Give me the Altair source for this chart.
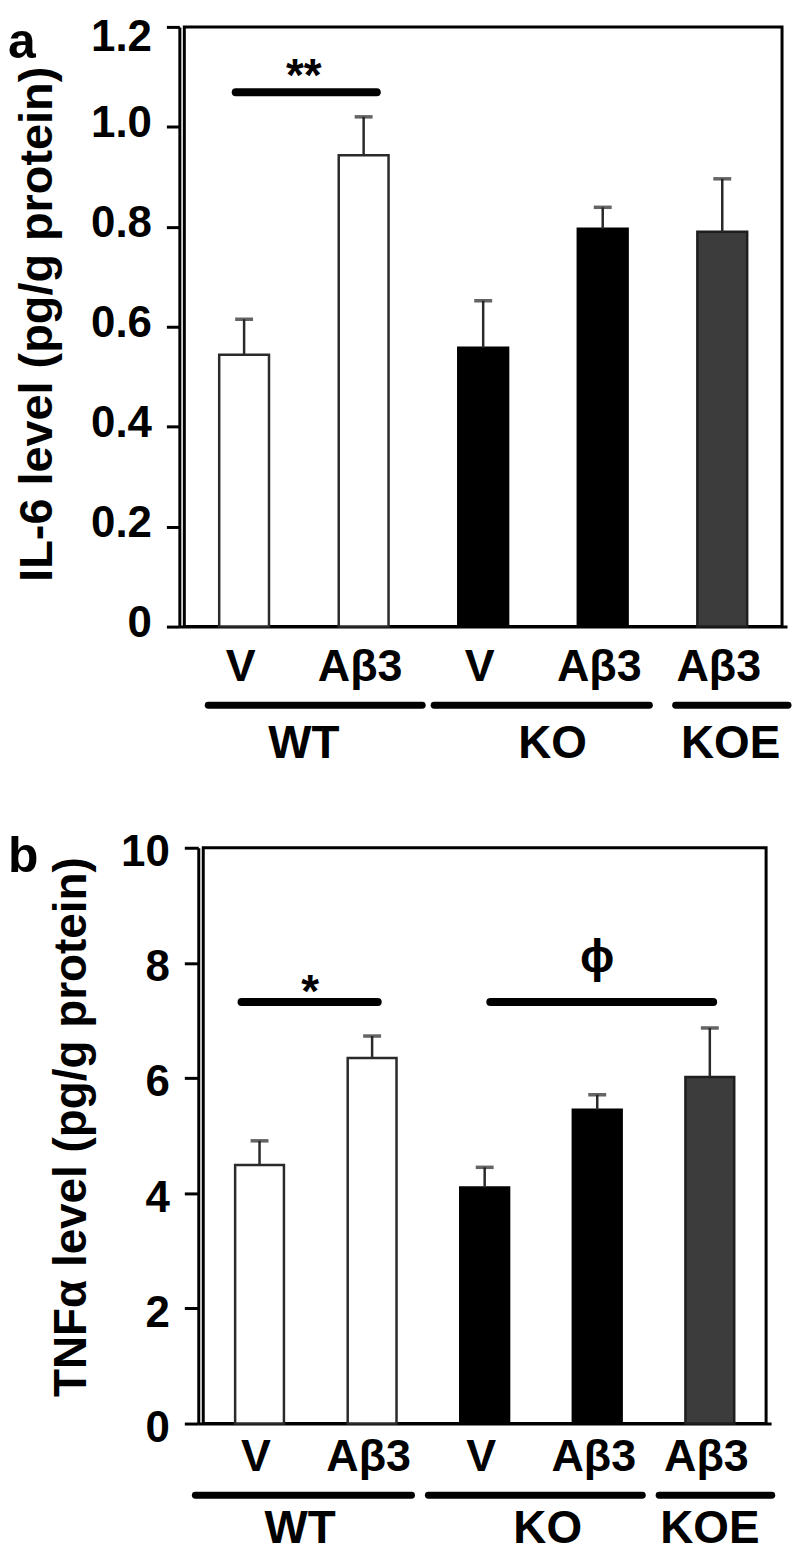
import json
import altair as alt
import pandas as pd

# ---------------- data ----------------
groups = ["WT", "WT", "KO", "KO", "KOE"]
treatments = ["V", "Aβ3", "V", "Aβ3", "Aβ3"]
group_names = ["WT", "KO", "KOE"]

il6_mean = [0.544, 0.943, 0.558, 0.796, 0.790]
il6_err = [0.071, 0.077, 0.094, 0.043, 0.106]
il6_ticks = [0, 0.2, 0.4, 0.6, 0.8, 1.0, 1.2]

tnf_mean = [4.49, 6.35, 4.10, 5.45, 6.02]
tnf_err = [0.42, 0.38, 0.35, 0.26, 0.85]
tnf_ticks = [0, 2, 4, 6, 8, 10]

# significance marks: label, bar span, level of the bracket line, level of the label
il6_sig_labels = ["**"]
il6_sig_from = [0]
il6_sig_to = [1]
il6_sig_level = [1.069]
il6_sig_text_level = [1.072]

tnf_sig_labels = ["*", "ϕ"]
tnf_sig_from = [0, 2]
tnf_sig_to = [1, 4]
tnf_sig_level = [7.32, 7.32]
tnf_sig_text_level = [7.24, 7.85]

FONT = "Liberation Sans"
FILL = {"WT": "white", "KO": "black", "KOE": "#3c3c3c"}
STROKE = {"WT": "#2a2a2a", "KO": "black", "KOE": "#1e1e1e"}

N = len(groups)


def panel(means, errs, ticks, ymax, ylabel, letter, sig, st):
    W, H, X0 = st["W"], st["H"], st["x0"]
    df = pd.DataFrame({"group": groups, "treat": treatments, "mean": means, "err": errs})
    df["idx"] = list(range(N))

    xscale = alt.Scale(domain=[0, N], range=[X0, W], nice=False, zero=False)
    yscale = alt.Scale(domain=[0, ymax], nice=False, zero=True)
    lab_arr = json.dumps(treatments, ensure_ascii=False)
    xaxis = alt.Axis(
        values=[i + 0.5 for i in range(N)],
        labelExpr=f"{lab_arr}[floor(datum.value)]",
        ticks=False, tickSize=0, grid=False, domain=True,
        domainColor="black", domainWidth=3,
        labelFont=FONT, labelFontSize=45, labelFontWeight="bold", labelColor="black",
        labelPadding=st["xlabpad"], labelBaseline="alphabetic", labelOffset=-4,
        labelFlush=False, labelOverlap=False, title=None,
    )
    yaxis = alt.Axis(
        values=ticks,
        labelExpr=st["ylabexpr"],
        labelOffset={"condition": {"test": f"datum.value >= {ymax} * 0.99", "value": st["top_lab_off"]},
                     "value": st["lab_off"]},
        offset=-X0,
        grid=False, domain=True, domainColor="black", domainWidth=3,
        ticks=True, tickSize=st["ticksize"], tickWidth=3, tickColor="black",
        labelFont=FONT, labelFontSize=44, labelFontWeight="bold", labelColor="black",
        labelPadding=st["ylabpad"], labelOverlap=False,
        title=ylabel, titleFont=FONT, titleFontSize=st["titlesize"], titleFontWeight="bold",
        titleColor="black", titleAngle=270, titleAlign="center", titleBaseline="middle",
        titleX=st["titleX"], titleY=st["titleY"],
    )

    def X(f):
        return alt.X(f, type="quantitative", scale=xscale, axis=xaxis)

    def Y(f):
        return alt.Y(f, type="quantitative", scale=yscale, axis=yaxis)

    # plot frame drawn through the scales (domain corners)
    frame = alt.Chart(pd.DataFrame({"k": [0]})).mark_rect(
        fillOpacity=0, stroke="black", strokeWidth=3
    ).encode(
        x=alt.XDatum(0, type="quantitative", scale=xscale, axis=xaxis),
        x2=alt.X2Datum(N),
        y=alt.YDatum(0, type="quantitative", scale=yscale, axis=yaxis),
        y2=alt.Y2Datum(ymax),
    )

    base = alt.Chart(df).transform_calculate(xc="datum.idx + 0.5", top="datum.mean + datum.err")
    fill = alt.Fill("group:N", scale=alt.Scale(domain=group_names, range=[FILL[g] for g in group_names]), legend=None)
    stroke = alt.Stroke("group:N", scale=alt.Scale(domain=group_names, range=[STROKE[g] for g in group_names]), legend=None)

    stems = base.mark_rule(strokeWidth=2.5, color="#2a2a2a").encode(x=X("xc"), y=Y("mean"), y2="top:Q")
    caps = base.mark_tick(orient="horizontal", size=18, thickness=3.5, color="#222222").encode(x=X("xc"), y=Y("top"))
    bars = base.mark_bar(size=st["bw"], strokeWidth=2.5, orient="vertical").encode(
        x=X("xc"), y=Y("mean"), fill=fill, stroke=stroke
    )

    # significance brackets
    sdf = pd.DataFrame({
        "label": sig["labels"],
        "a": sig["from"], "b": sig["to"],
        "level": sig["level"], "tlevel": sig["tlevel"],
    })
    sbase = alt.Chart(sdf).transform_calculate(
        x1=f"datum.a + 0.5 + {st['sig_pad_l']}[datum.a == 0 ? 0 : 1]",
        x2=f"datum.b + 0.5 + {st['sig_pad_r']}[datum.a == 0 ? 0 : 1]",
        xm=f"(datum.a + datum.b) / 2 + 0.5 + {st['sig_dx']}[datum.a == 0 ? 0 : 1]",
    )
    sig_lines = sbase.mark_rule(strokeWidth=8, strokeCap="round", color="black").encode(
        x=X("x1"), x2="x2:Q", y=Y("level")
    )
    sig_text = sbase.mark_text(font=FONT, fontSize=46, fontWeight="bold", baseline="alphabetic", color="black").encode(
        x=X("xm"), y=Y("tlevel"), text="label:N"
    )

    # group underlines and names below the axis
    gdf = pd.DataFrame({"gname": group_names})
    gdf["first"] = [groups.index(g) for g in group_names]
    gdf["last"] = [len(groups) - 1 - groups[::-1].index(g) for g in group_names]
    gdf["gi"] = list(range(len(group_names)))
    gbase = alt.Chart(gdf).transform_calculate(
        gx1=f"datum.first + 0.5 + {st['gpad_l']}[datum.gi]",
        gx2=f"datum.last + 0.5 + {st['gpad_r']}[datum.gi]",
        gxm=f"(datum.first + datum.last) / 2 + 0.5 + {st['gdx']}[datum.gi]",
    )
    glines = gbase.mark_rule(strokeWidth=7, strokeCap="round", color="black").encode(
        x=X("gx1"), x2="gx2:Q", y=alt.value(H + st["gline_off"])
    )
    gtext = gbase.mark_text(font=FONT, fontSize=46, fontWeight="bold", baseline="alphabetic", color="black").encode(
        x=X("gxm"), y=alt.value(H + st["gtext_off"]), text="gname:N"
    )

    letter_mark = alt.Chart(pd.DataFrame({"t": [letter]})).mark_text(
        font=FONT, fontSize=50, fontWeight="bold", align="left", baseline="alphabetic", color="black"
    ).encode(x=alt.value(st["letter_x"]), y=alt.value(st["letter_y"]), text="t:N")

    return alt.layer(frame, bars, stems, caps, sig_lines, sig_text, glines, gtext, letter_mark).properties(
        width=W, height=H
    )


st_a = dict(
    W=610, H=602, x0=0, bw=50, xlabpad=54, ticksize=13, ylabpad=15, titlesize=47,
    titleX=-142, titleY=298, lab_off=-3, top_lab_off=11,
    ylabexpr="datum.value == 0 ? '0' : format(datum.value, '.1f')",
    sig_pad_l="[-0.07, 0]", sig_pad_r="[0.11, 0]", sig_dx="[0.0, 0]",
    gpad_l="[-0.30, -0.41, -0.39]", gpad_r="[0.49, 0.39, 0.55]", gdx="[0.0, 0.08, 0.07]",
    gline_off=79, gtext_off=132, letter_x=-172, letter_y=31,
)
st_b = dict(
    W=594, H=578, x0=19, bw=49, xlabpad=47, ticksize=14, ylabpad=15, titlesize=46,
    titleX=-127, titleY=280, lab_off=5, top_lab_off=5,
    ylabexpr="format(datum.value, 'd')",
    sig_pad_l="[-0.16, 0.05]", sig_pad_r="[0.05, 0.03]", sig_dx="[-0.05, 0.0]",
    gpad_l="[-0.57, -0.50, -0.45]", gpad_r="[0.35, 0.40, 0.55]", gdx="[-0.14, 0.06, 0.0]",
    gline_off=72, gtext_off=120, letter_x=-172, letter_y=24,
)

pa = panel(il6_mean, il6_err, il6_ticks, 1.2, "IL-6 level (pg/g protein)", "a",
           dict(labels=il6_sig_labels, **{"from": il6_sig_from}, to=il6_sig_to,
                level=il6_sig_level, tlevel=il6_sig_text_level), st_a)
pb = panel(tnf_mean, tnf_err, tnf_ticks, 10, "TNFα level (pg/g protein)", "b",
           dict(labels=tnf_sig_labels, **{"from": tnf_sig_from}, to=tnf_sig_to,
                level=tnf_sig_level, tlevel=tnf_sig_text_level), st_b)

chart = alt.concat(pa, pb, columns=1, spacing=64).properties(
    padding={"left": 0, "top": 5, "right": 0, "bottom": 2},
    background="white",
).configure_view(stroke="transparent", strokeWidth=0)

chart.save("out.html", embed_options={"renderer": "svg", "actions": False})
